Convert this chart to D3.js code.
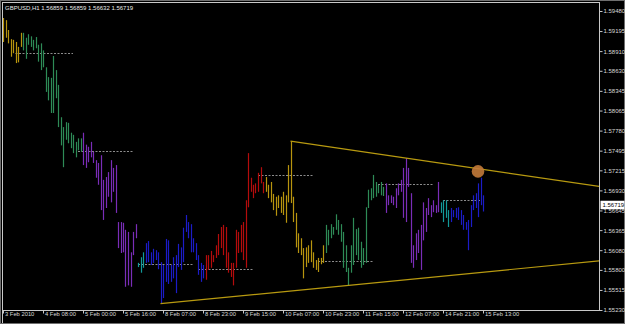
<!DOCTYPE html>
<html>
<head>
<meta charset="utf-8">
<script src="https://cdn.jsdelivr.net/npm/d3@7"></script>
<style>
  html, body { margin: 0; padding: 0; background: #000; }
  svg { display: block; }
  text { font-family: "Liberation Sans", Arial, sans-serif; }
</style>
</head>
<body>
<div id="chart"></div>
<script>
(function () {
  const symbol = "GBPUSD,H1";
  const lastOHLC = [1.56859, 1.56859, 1.56632, 1.56719];

  // H1 bars, left to right (bar index = position)
  const highs = [
    1.5938, 1.5935, 1.5921, 1.5908, 1.5907, 1.5904, 1.5897, 1.5917, 1.5917, 1.5910,
    1.5915, 1.5912, 1.5907, 1.5911, 1.5900, 1.5902, 1.5892, 1.5868, 1.5854, 1.5853,
    1.5884, 1.5864, 1.5843, 1.5797, 1.5783, 1.5790, 1.5789, 1.5775, 1.5772, 1.5762,
    1.5767, 1.5767, 1.5775, 1.5758, 1.5755, 1.5762, 1.5748, 1.5736, 1.5732, 1.5743,
    1.5708, 1.5712, 1.5719, 1.5736, 1.5725, 1.5729, 1.5648, 1.5648, 1.5647, 1.5637,
    1.5634, 1.5605, 1.5634, 1.5645, 1.5590, 1.5598, 1.5605, 1.5618, 1.5621, 1.5605,
    1.5610, 1.5608, 1.5605, 1.5591, 1.5587, 1.5624, 1.5622, 1.5587, 1.5598, 1.5601,
    1.5617, 1.5612, 1.5640, 1.5658, 1.5648, 1.5645, 1.5625, 1.5618, 1.5601, 1.5590,
    1.5587, 1.5601, 1.5601, 1.5607, 1.5601, 1.5615, 1.5631, 1.5641, 1.5644, 1.5641,
    1.5605, 1.5590, 1.5590, 1.5637, 1.5634, 1.5644, 1.5648, 1.5679, 1.5746, 1.5711,
    1.5701, 1.5703, 1.5718, 1.5726, 1.5705, 1.5712, 1.5701, 1.5705, 1.5688, 1.5684,
    1.5686, 1.5684, 1.5691, 1.5686, 1.5729, 1.5763, 1.5684, 1.5661, 1.5632, 1.5625,
    1.5611, 1.5612, 1.5615, 1.5622, 1.5605, 1.5594, 1.5597, 1.5597, 1.5615, 1.5644,
    1.5637, 1.5645, 1.5641, 1.5659, 1.5651, 1.5645, 1.5634, 1.5615, 1.5583, 1.5615,
    1.5654, 1.5638, 1.5640, 1.5620, 1.5611, 1.5669, 1.5694, 1.5696, 1.5715, 1.5705,
    1.5701, 1.5705, 1.5698, 1.5703, 1.5686, 1.5686, 1.5684, 1.5696, 1.5703, 1.5708,
    1.5725, 1.5739, 1.5725, 1.5689, 1.5615, 1.5632, 1.5637, 1.5644, 1.5676, 1.5668,
    1.5682, 1.5672, 1.5679, 1.5672, 1.5705, 1.5676, 1.5679, 1.5679, 1.5665, 1.5668,
    1.5665, 1.5668, 1.5669, 1.5665, 1.5658, 1.5648, 1.5651, 1.5672, 1.5686, 1.5689,
    1.5703, 1.5711, 1.5686
  ];
  const lows = [
    1.5904, 1.5910, 1.5902, 1.5883, 1.5888, 1.5874, 1.5875, 1.5897, 1.5892, 1.5880,
    1.5900, 1.5897, 1.5892, 1.5895, 1.5876, 1.5864, 1.5868, 1.5833, 1.5821, 1.5803,
    1.5803, 1.5824, 1.5783, 1.5757, 1.5726, 1.5765, 1.5760, 1.5753, 1.5746, 1.5740,
    1.5750, 1.5748, 1.5729, 1.5725, 1.5733, 1.5740, 1.5732, 1.5711, 1.5701, 1.5665,
    1.5651, 1.5668, 1.5684, 1.5676, 1.5691, 1.5661, 1.5611, 1.5604, 1.5605, 1.5556,
    1.5558, 1.5556, 1.5601, 1.5625, 1.5584, 1.5576, 1.5583, 1.5590, 1.5591, 1.5587,
    1.5590, 1.5594, 1.5581, 1.5532, 1.5540, 1.5563, 1.5560, 1.5563, 1.5568, 1.5547,
    1.5584, 1.5580, 1.5591, 1.5634, 1.5625, 1.5605, 1.5605, 1.5594, 1.5573, 1.5563,
    1.5568, 1.5566, 1.5580, 1.5583, 1.5591, 1.5597, 1.5601, 1.5611, 1.5601, 1.5583,
    1.5576, 1.5570, 1.5558, 1.5583, 1.5604, 1.5605, 1.5594, 1.5583, 1.5669, 1.5691,
    1.5682, 1.5689, 1.5691, 1.5703, 1.5689, 1.5691, 1.5682, 1.5676, 1.5665, 1.5657,
    1.5668, 1.5661, 1.5658, 1.5647, 1.5676, 1.5675, 1.5648, 1.5612, 1.5604, 1.5601,
    1.5568, 1.5584, 1.5590, 1.5591, 1.5583, 1.5580, 1.5577, 1.5588, 1.5590, 1.5604,
    1.5615, 1.5625, 1.5630, 1.5637, 1.5630, 1.5620, 1.5583, 1.5577, 1.5558, 1.5576,
    1.5587, 1.5601, 1.5594, 1.5583, 1.5587, 1.5590, 1.5668, 1.5679, 1.5682, 1.5684,
    1.5689, 1.5686, 1.5685, 1.5661, 1.5672, 1.5675, 1.5672, 1.5668, 1.5686, 1.5691,
    1.5654, 1.5648, 1.5698, 1.5590, 1.5583, 1.5594, 1.5604, 1.5580, 1.5622, 1.5634,
    1.5658, 1.5655, 1.5662, 1.5661, 1.5662, 1.5661, 1.5648, 1.5654, 1.5641, 1.5648,
    1.5655, 1.5654, 1.5651, 1.5644, 1.5637, 1.5637, 1.5608, 1.5641, 1.5665, 1.5668,
    1.5655, 1.5672, 1.5663
  ];

  // bars per trading day and the day colour (Wed 3 Feb .. Mon 15 Feb)
  const daySizes = [8, 24, 22, 3, 24, 24, 24, 24, 22, 4, 14];
  const dayColors = [
    "#b8940e", "#2e8b57", "#7a2db8", "#129a9a", "#1c1cc8", "#b40c0c",
    "#b8940e", "#2e8b57", "#7a2db8", "#129a9a", "#1c1cc8"
  ];

  // dashed daily levels
  const levelPrices = [1.5889, 1.5749, 1.5588, 1.5581, 1.5715, 1.5593, 1.5702, 1.5679];
  const levelStart  = [5, 30, 54, 78, 102, 126, 150, 176];
  const levelEnd    = [28, 52, 76, 100, 124, 148, 172, 191];

  // trend lines: [bar index, price] anchors
  const trendUpper = [[115, 1.5763], [161, 1.5739]];
  const trendLower = [[63, 1.5532], [138, 1.5558]];

  const marker = { bar: 190, price: 1.5720 };

  const priceTicks = [1.59480, 1.59195, 1.58910, 1.58630, 1.58345, 1.58065, 1.57780, 1.57495,
    1.57215, 1.56930, 1.56645, 1.56365, 1.56080, 1.55800, 1.55515, 1.55230];
  const timeTickBars = [0, 16, 32, 48, 64, 80, 96, 112, 128, 144, 160, 176, 192];
  const timeLabels = ["3 Feb 2010", "4 Feb 08:00", "5 Feb 00:00", "5 Feb 16:00", "8 Feb 07:00",
    "8 Feb 23:00", "9 Feb 15:00", "10 Feb 07:00", "10 Feb 23:00", "11 Feb 15:00",
    "12 Feb 07:00", "14 Feb 21:00", "15 Feb 13:00"];

  const W = 625, H = 324;
  const plot = { left: 2.5, top: 2.5, right: 599.5, bottom: 310.5 };

  const x = d3.scaleLinear().domain([0, 192]).range([3, 483]);
  const y = d3.scaleLinear().domain([1.55230, 1.59480]).range([310, 11]);

  const barColors = daySizes.flatMap((n, i) => d3.range(n).map(() => dayColors[i]));
  const bars = highs.map((h, i) => ({ i, h, l: lows[i], c: barColors[i] }));

  const svg = d3.select("#chart").append("svg")
    .attr("width", W).attr("height", H);

  svg.append("rect").attr("width", W).attr("height", H).attr("fill", "#000");

  svg.append("clipPath").attr("id", "plotClip")
    .append("rect")
    .attr("x", plot.left + 0.5).attr("y", plot.top + 0.5)
    .attr("width", plot.right - plot.left - 1).attr("height", plot.bottom - plot.top - 1);

  const g = svg.append("g").attr("clip-path", "url(#plotClip)");

  // ---------- dashed levels ----------
  g.selectAll("line.level")
    .data(levelPrices)
    .join("line")
    .attr("class", "level")
    .attr("x1", (d, i) => x(levelStart[i]))
    .attr("x2", (d, i) => x(levelEnd[i]))
    .attr("y1", d => Math.round(y(d)) + 0.5)
    .attr("y2", d => Math.round(y(d)) + 0.5)
    .attr("stroke", "#8c8c8c")
    .attr("stroke-dasharray", "2,1.5");

  // ---------- bars ----------
  g.selectAll("line.bar")
    .data(bars)
    .join("line")
    .attr("class", "bar")
    .attr("x1", d => Math.round(x(d.i)) + 0.5)
    .attr("x2", d => Math.round(x(d.i)) + 0.5)
    .attr("y1", d => y(d.h))
    .attr("y2", d => y(d.l))
    .attr("stroke", d => d.c)
    .attr("stroke-width", 1.2);

  // ---------- trend lines (rays to the right edge) ----------
  const rightBar = x.invert(plot.right);
  function ray(pts) {
    const [[b0, p0], [b1, p1]] = pts;
    const slope = (p1 - p0) / (b1 - b0);
    return [[b0, p0], [rightBar, p0 + slope * (rightBar - b0)]];
  }
  g.selectAll("path.trend")
    .data([ray(trendUpper), ray(trendLower)])
    .join("path")
    .attr("class", "trend")
    .attr("d", d3.line().x(d => x(d[0])).y(d => y(d[1])))
    .attr("fill", "none")
    .attr("stroke", "#b89a10")
    .attr("stroke-width", 1.2);

  // ---------- marker ----------
  g.append("circle")
    .attr("cx", x(marker.bar))
    .attr("cy", y(marker.price))
    .attr("r", 6.3)
    .attr("fill", "#c27a3a")
    .attr("fill-opacity", 0.9);

  // ---------- frame ----------
  svg.append("rect")
    .attr("x", plot.left).attr("y", plot.top)
    .attr("width", plot.right - plot.left).attr("height", plot.bottom - plot.top)
    .attr("fill", "none").attr("stroke", "#c8c8c8");
  svg.append("line")
    .attr("x1", plot.left).attr("x2", plot.left)
    .attr("y1", plot.bottom).attr("y2", H)
    .attr("stroke", "#c8c8c8");
  svg.append("rect")
    .attr("x", 0.5).attr("y", 0.5).attr("width", W - 1).attr("height", H - 1)
    .attr("fill", "none").attr("stroke", "#6e6e6e");

  // ---------- price axis ----------
  const yAxis = svg.append("g")
    .attr("transform", `translate(${plot.right},0)`)
    .call(d3.axisRight(y).tickValues(priceTicks).tickFormat(d3.format(".5f")).tickSize(3).tickPadding(1));
  yAxis.select(".domain").remove();
  yAxis.selectAll(".tick line").attr("stroke", "#c8c8c8");
  yAxis.selectAll(".tick text")
    .attr("fill", "#d8d8d8")
    .style("font-size", "6px")
    .style("font-family", "'Liberation Sans', Arial, sans-serif");

  // current price box
  const lastY = y(lastOHLC[3]);
  svg.append("rect")
    .attr("x", plot.right + 1).attr("y", lastY - 4.5)
    .attr("width", 24).attr("height", 8.5)
    .attr("fill", "#fff");
  svg.append("text")
    .attr("x", plot.right + 3).attr("y", lastY + 2)
    .attr("fill", "#000")
    .style("font-size", "6px")
    .text(d3.format(".5f")(lastOHLC[3]));

  // ---------- time axis ----------
  const xAxis = svg.append("g")
    .attr("transform", `translate(0,${plot.bottom})`)
    .call(d3.axisBottom(x).tickValues(timeTickBars)
      .tickFormat((d, i) => timeLabels[i]).tickSize(3).tickPadding(1));
  xAxis.select(".domain").remove();
  xAxis.selectAll(".tick line").attr("stroke", "#c8c8c8");
  xAxis.selectAll(".tick text")
    .attr("text-anchor", "start")
    .attr("dx", 1.5)
    .attr("dy", "0.2em")
    .attr("fill", "#d8d8d8")
    .style("font-size", "5.8px")
    .style("font-family", "'Liberation Sans', Arial, sans-serif");

  // ---------- header ----------
  svg.append("text")
    .attr("x", 5).attr("y", 9.5)
    .attr("fill", "#e8e8e8")
    .style("font-size", "6px")
    .text(`${symbol}  ${lastOHLC.map(d3.format(".5f")).join(" ")}`);
})();
</script>
</body>
</html>
